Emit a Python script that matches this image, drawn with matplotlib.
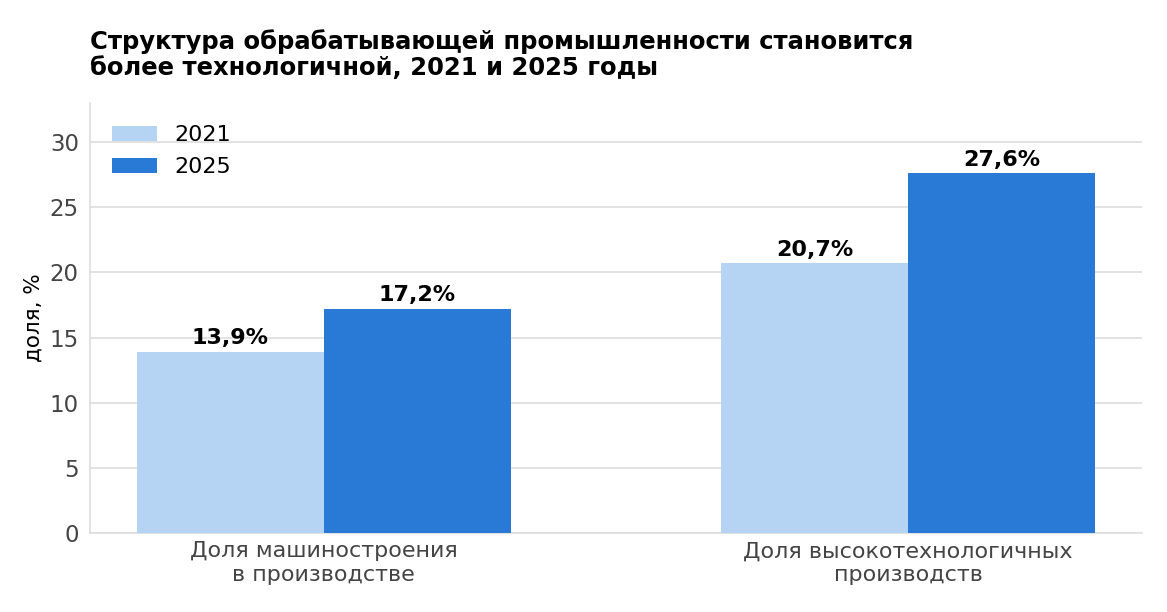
import matplotlib
matplotlib.use("Agg")
import matplotlib.pyplot as plt
import numpy as np

# Data
categories = ["Доля машиностроения\nв производстве", "Доля высокотехнологичных\nпроизводств"]
years = ["2021", "2025"]
values_2021 = [13.9, 20.7]
values_2025 = [17.2, 27.6]
labels_2021 = ["13,9%", "20,7%"]
labels_2025 = ["17,2%", "27,6%"]

light = "#B5D3F3"
dark = "#2979D7"

fig = plt.figure(figsize=(11.67, 6.12), dpi=100)
ax = fig.add_axes([0.0771, 0.129, 0.9015, 0.7027])

x = np.arange(len(categories))
w = 0.32
b1 = ax.bar(x - w / 2, values_2021, w, color=light, label=years[0], zorder=3)
b2 = ax.bar(x + w / 2, values_2025, w, color=dark, label=years[1], zorder=3)

for bars, labs in [(b1, labels_2021), (b2, labels_2025)]:
    for rect, lab in zip(bars, labs):
        ax.annotate(lab, (rect.get_x() + rect.get_width() / 2, rect.get_height()),
                    xytext=(0, 2.5), textcoords="offset points",
                    ha="center", va="bottom", fontsize=16, fontweight="bold")

ax.set_xlim(-0.4, 1.4)
ax.set_ylim(0, 33)
ax.set_yticks([0, 5, 10, 15, 20, 25, 30])
ax.set_xticks(x)
ax.set_xticklabels(categories, fontsize=16, color="#444444", linespacing=1.25)
ax.tick_params(axis="y", labelsize=16.5, labelcolor="#444444", length=0, pad=8)
ax.tick_params(axis="x", length=0, pad=6)
ax.set_ylabel("доля, %", fontsize=15.5, labelpad=4)

ax.grid(axis="y", color="#DDDDDD", linewidth=1.2, zorder=0)
for s in ["top", "right"]:
    ax.spines[s].set_visible(False)
for s in ["left", "bottom"]:
    ax.spines[s].set_color("#DDDDDD")
    ax.spines[s].set_linewidth(1.2)

ax.legend(loc="upper left", fontsize=16, frameon=False, handlelength=2.0,
          handleheight=0.7, borderaxespad=0.6, labelspacing=0.55)

fig.text(0.077, 0.953, "Структура обрабатывающей промышленности становится\nболее технологичной, 2021 и 2025 годы",
         fontsize=17.5, fontweight="bold", ha="left", va="top", linespacing=1.15)

fig.savefig("out.png", dpi=100)
